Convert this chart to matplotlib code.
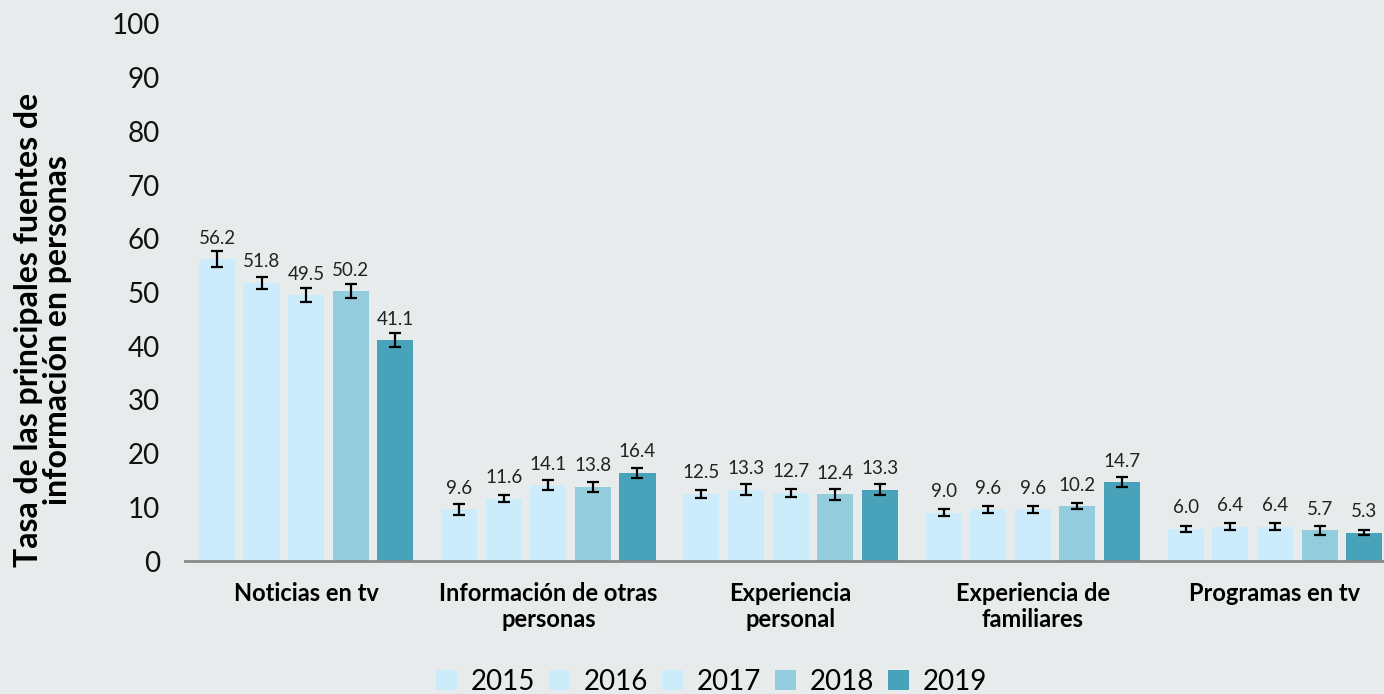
import numpy as np
import matplotlib
matplotlib.use('Agg')
import matplotlib.pyplot as plt

# data
categories = ['Noticias en tv', 'Información de otras\npersonas', 'Experiencia\npersonal',
              'Experiencia de\nfamiliares', 'Programas en tv']
years = ['2015', '2016', '2017', '2018', '2019']
v2015 = [56.2, 9.6, 12.5, 9.0, 6.0]
v2016 = [51.8, 11.6, 13.3, 9.6, 6.4]
v2017 = [49.5, 14.1, 12.7, 9.6, 6.4]
v2018 = [50.2, 13.8, 12.4, 10.2, 5.7]
v2019 = [41.1, 16.4, 13.3, 14.7, 5.3]
e2015 = [1.5, 1.0, 0.8, 0.6, 0.6]
e2016 = [1.1, 0.6, 1.0, 0.6, 0.6]
e2017 = [1.3, 0.9, 0.8, 0.6, 0.6]
e2018 = [1.3, 0.9, 1.1, 0.6, 0.8]
e2019 = [1.3, 0.9, 1.0, 1.0, 0.55]

values = [v2015, v2016, v2017, v2018, v2019]
errors = [e2015, e2016, e2017, e2018, e2019]
colors = ['#CCEBFB', '#CCEBFB', '#CCEBFB', '#93CDDD', '#48A3BA']
bg = '#E7EBEC'

plt.rcParams['font.family'] = ['Lato', 'DejaVu Sans']

fig = plt.figure(figsize=(13.84, 6.94), dpi=100, facecolor=bg)
ax = fig.add_axes([185/1384, 1 - 561/694, 1 - 185/1384, (561 - 24)/694])
ax.set_facecolor(bg)

x = np.arange(len(categories))
stride = 0.184
width = 0.149
for i, yr in enumerate(years):
    pos = x + (i - 2) * stride
    ax.bar(pos, values[i], width, color=colors[i], label=yr,
           yerr=errors[i], capsize=4.5, error_kw=dict(ecolor='black', elinewidth=1.6, capthick=1.6))
    for p, v in zip(pos, values[i]):
        ax.annotate(f'{v:.1f}', (p, v), xytext=(0, 9), textcoords='offset points',
                    ha='center', va='bottom', fontsize=13.5, color='#222222')

ax.set_ylim(0, 100)
ax.set_xlim(-0.5, 4.45)
ax.set_yticks(range(0, 101, 10))
ax.tick_params(axis='y', length=0, labelsize=20, pad=18, labelcolor='#111111')
ax.tick_params(axis='x', length=0, pad=15)
ax.set_xticks(x)
ax.set_xticklabels(categories, fontsize=17, fontweight='bold', linespacing=1.15)
for s in ['top', 'right', 'left']:
    ax.spines[s].set_visible(False)
ax.spines['bottom'].set_color('#898989')
ax.spines['bottom'].set_linewidth(2)

fig.text(0.031, 1 - 330/694, 'Tasa de las principales fuentes de\ninformación en personas',
         rotation=90, ha='center', va='center', fontsize=23, fontweight='bold',
         linespacing=1.0)

fig.legend(loc='center', bbox_to_anchor=(712/1384, 1 - 682/694), ncol=5, frameon=False,
           fontsize=20, handlelength=0.75, handleheight=0.75, columnspacing=0.5,
           handletextpad=0.5)

fig.savefig('out.png', dpi=100, facecolor=bg)
